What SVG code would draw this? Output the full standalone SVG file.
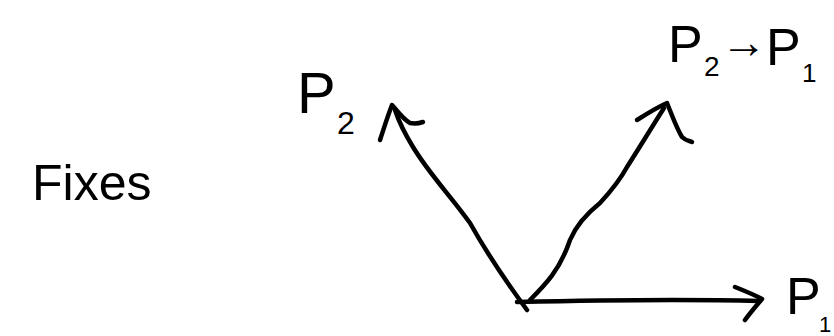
<svg xmlns="http://www.w3.org/2000/svg" width="834" height="336" viewBox="0 0 834 336">
<style>
.ink{fill:none;stroke:#000;stroke-width:4.5;stroke-linecap:round;stroke-linejoin:round}
.lbl{font-family:"Liberation Sans","DejaVu Sans",sans-serif;fill:#000}
</style>
<rect width="834" height="336" fill="#fff"/>
<g id="connectors">
<path class="ink" d="M527,310 C505,280 485,250 470,223 C450,195 430,175 413,147 C405,134 400,125 395,110"/>
<path class="ink" d="M380,140 C384,128 388,115 392,105 C398,112 404,120 410,123 C415,124 420,123 423,122"/>
<path class="ink" d="M530,300 C545,285 560,270 570,240 C575,228 585,215 600,203 C612,190 620,180 627,167 C638,150 650,130 664,108"/>
<path class="ink" d="M637,120 C648,113 658,107 667,103 C672,115 676,127 682,137 C686,141 690,141 692,142"/>
<path class="ink" d="M517,302 C600,300 690,299 760,301"/>
<path class="ink" d="M735,287 C745,291 755,295 762,299 C756,306 750,313 745,320"/>
</g>
<g id="node-fixes">
<text class="lbl" x="32" y="200" font-size="50">Fixes</text>
</g>
<g id="node-p2">
<text class="lbl" x="297" y="113" font-size="58">P<tspan x="337" y="134" font-size="32">2</tspan></text>
</g>
<g id="node-p2p1">
<text class="lbl" x="668" y="62" font-size="52">P<tspan x="704" y="76" font-size="28">2</tspan><tspan x="721" y="58" font-size="46">→</tspan><tspan x="766" y="65" font-size="52">P</tspan><tspan x="802" y="82" font-size="26">1</tspan></text>
</g>
<g id="node-p1">
<text class="lbl" x="786" y="314" font-size="52">P<tspan x="819" y="332" font-size="22">1</tspan></text>
</g>
</svg>
